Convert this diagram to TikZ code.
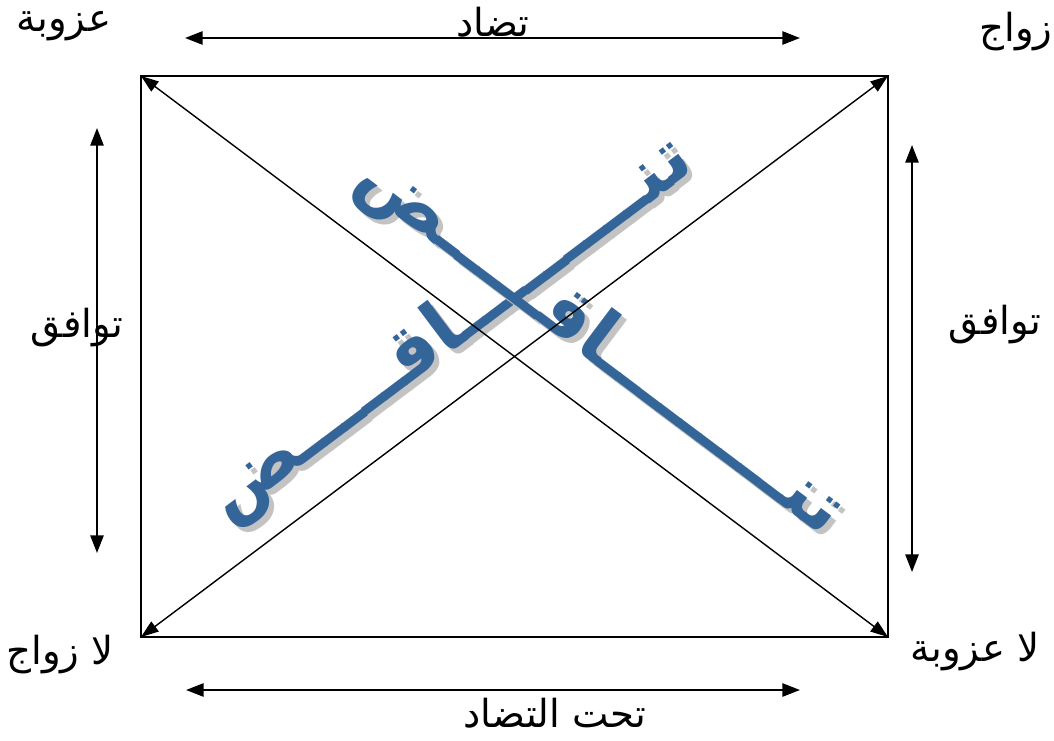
\documentclass[tikz,border=0pt]{standalone}
\usepackage{fontspec}
\usepackage{xcolor}
\usepackage{tikz}
\usetikzlibrary{arrows.meta}
\TeXXeTstate=1
\newfontfamily\arabicfont[Script=Arabic]{DejaVu Sans}
\newcommand{\ar}[1]{\arabicfont\beginR #1\endR}
\definecolor{clrBig}{RGB}{52,101,153}
\definecolor{clrShd}{RGB}{195,195,195}
\tikzset{
  label/.style={font=\arabicfont\fontsize{22}{24}\selectfont,inner sep=1pt},
  bigword/.style={font=\arabicfont\bfseries\fontsize{42}{42}\selectfont,text=clrBig,inner sep=0pt},
  bigshade/.style={bigword,text=clrShd},
  frame/.style={line width=1.1pt},
  diag/.style={line width=0.8pt,{Triangle[length=10pt,width=7pt]}-{Triangle[length=10pt,width=7pt]}},
  arrow/.style={line width=1.1pt,{Triangle[length=10pt,width=7.5pt]}-{Triangle[length=10pt,width=7.5pt]}}
}

\begin{document}
\begin{tikzpicture}[x=0.02cm,y=-0.02cm]
  \useasboundingbox (0,0) rectangle (1054,740);
  % corners of the square
  \coordinate (tl) at (141,76);
  \coordinate (tr) at (888,76);
  \coordinate (bl) at (141,637);
  \coordinate (br) at (888,637);
  % ends of the outer arrows
  \coordinate (tw) at (185,38);
  \coordinate (te) at (800,38);
  \coordinate (bw) at (186,690);
  \coordinate (be) at (800,690);
  \coordinate (ln) at (97,128);
  \coordinate (ls) at (97,553);
  \coordinate (rn) at (912,145);
  \coordinate (rs) at (912,572);

  % big stretched words on the diagonals
  \node[bigshade,rotate=37] (upS) at (455,335)
    {\beginR تنـــــــــاقـــــض\endR};
  \node[bigword,rotate=37] (up) at (450,330)
    {\beginR تنـــــــــاقـــــض\endR};
  \node[bigshade,rotate=-37] (dnS) at (605,350)
    {\beginR تنـــــــــاقـــــض\endR};
  \node[bigword,rotate=-37] (dn) at (600,345)
    {\beginR تنـــــــــاقـــــض\endR};

  \draw[frame] (tl) rectangle (br);
  \draw[diag] (tl) -- (br);
  \draw[diag] (bl) -- (tr);
  \draw[arrow] (tw) -- (te);
  \draw[arrow] (bw) -- (be);
  \draw[arrow] (ln) -- (ls);
  \draw[arrow] (rn) -- (rs);

  \node[label] (ctl) at (64,26) {\ar{عزوبة}};
  \node[label] (ctr) at (1016,32) {\ar{زواج}};
  \node[label] (cbl) at (60,655) {\ar{لا زواج}};
  \node[label] (cbr) at (975,652) {\ar{لا عزوبة}};
  \node[label] (top) at (493,22) {\ar{تضاد}};
  \node[label] (bot) at (555,713) {\ar{تحت التضاد}};
  \node[label] (lft) at (77,328) {\ar{توافق}};
  \node[label] (rgt) at (995,325) {\ar{توافق}};
\end{tikzpicture}
\end{document}
